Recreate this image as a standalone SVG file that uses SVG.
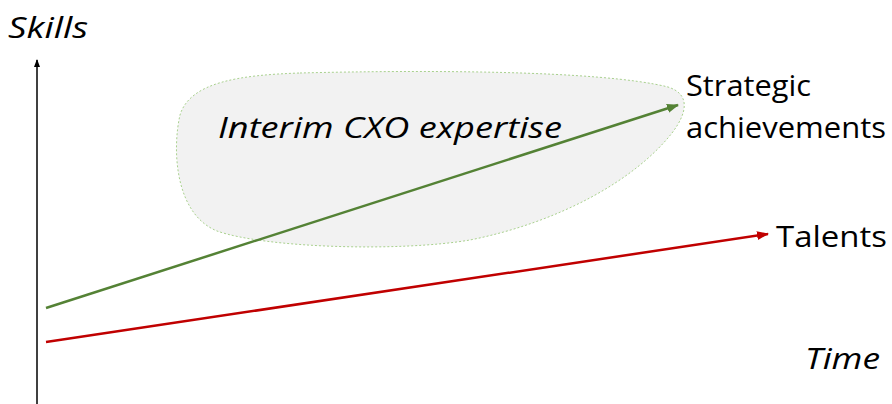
<svg xmlns="http://www.w3.org/2000/svg" width="892" height="404" viewBox="0 0 892 404">
<style>
.lbl{font-family:"Open Sans","Noto Sans",sans-serif;font-size:30px;fill:#000}
.it{font-style:italic}
</style>
<defs>
<marker id="ak" markerWidth="8" markerHeight="8" refX="7" refY="4" orient="auto" markerUnits="userSpaceOnUse"><path d="M0,1 L8,4 L0,7 Z" fill="#000"/></marker>
<marker id="ag" markerWidth="12" markerHeight="10" refX="11" refY="5" orient="auto" markerUnits="userSpaceOnUse"><path d="M0,0.5 L12,5 L0,9.5 Z" fill="#548235"/></marker>
<marker id="ar" markerWidth="12" markerHeight="10" refX="11" refY="5" orient="auto" markerUnits="userSpaceOnUse"><path d="M0,0.5 L12,5 L0,9.5 Z" fill="#c00000"/></marker>
</defs>
<rect width="892" height="404" fill="#fff"/>
<g id="blob">
<path d="M300,73 C420,70 600,70 668,87 C690,94 688,112 672,133 C635,180 560,222 470,240 C400,252 265,248 217,231 C175,214 172,150 180,115 C190,82 240,75 300,73 Z" fill="#f2f2f2" stroke="#a9d18e" stroke-width="1" stroke-dasharray="2 2"/>
<text class="lbl it" x="218" y="138" textLength="344" lengthAdjust="spacingAndGlyphs">Interim CXO expertise</text>
</g>
<g id="connectors">
<line x1="37" y1="404" x2="37" y2="60" stroke="#000" stroke-width="1.5" marker-end="url(#ak)"/>
<line x1="46" y1="308" x2="678" y2="105" stroke="#548235" stroke-width="2.5" marker-end="url(#ag)"/>
<line x1="46" y1="342" x2="768" y2="234" stroke="#c00000" stroke-width="2.5" marker-end="url(#ar)"/>
</g>
<g id="skills"><text class="lbl it" x="8" y="38" textLength="80" lengthAdjust="spacingAndGlyphs">Skills</text></g>
<g id="time"><text class="lbl it" x="805" y="369" textLength="75" lengthAdjust="spacingAndGlyphs">Time</text></g>
<g id="strategic">
<text class="lbl" x="686" y="96" textLength="125" lengthAdjust="spacingAndGlyphs">Strategic</text>
<text class="lbl" x="686" y="138" textLength="200" lengthAdjust="spacingAndGlyphs">achievements</text>
</g>
<g id="talents"><text class="lbl" x="776" y="247" textLength="111" lengthAdjust="spacingAndGlyphs">Talents</text></g>
</svg>
